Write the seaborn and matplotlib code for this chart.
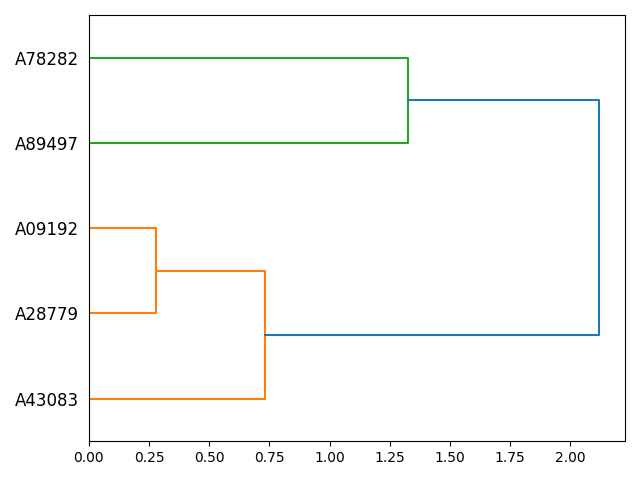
import numpy as np
import matplotlib
matplotlib.use("Agg")
import matplotlib.pyplot as plt
import seaborn as sns

# leaves, bottom to top
labels = ['A43083', 'A28779', 'A09192', 'A89497', 'A78282']
# merges: (left child, right child, height); ids >= 5 are earlier merges
merges = [(1, 2, 0.279), (0, 5, 0.733), (3, 4, 1.327), (6, 7, 2.121)]
merge_colors = ['C1', 'C1', 'C2', 'C0']

palette = sns.color_palette('tab10')

fig, ax = plt.subplots(figsize=(6.4, 4.8), dpi=100)

# positions of each node: leaves first, then merged clusters
ypos = [5 + 10 * i for i in range(len(labels))]
xpos = [0.0] * len(labels)
for (a, b, h), col in zip(merges, merge_colors):
    ya, yb = ypos[a], ypos[b]
    xa, xb = xpos[a], xpos[b]
    c = palette[int(col[1])]
    ax.plot([xa, h, h, xb], [ya, ya, yb, yb], color=c, lw=1.5)
    ypos.append((ya + yb) / 2)
    xpos.append(h)

ax.set_ylim(0, 10 * len(labels))
ax.set_xlim(0, max(m[2] for m in merges) * 1.05)
ax.set_yticks([5 + 10 * i for i in range(len(labels))])
ax.set_yticklabels(labels, fontsize=12)
# hide tick marks but keep their spacing
for line in ax.get_yticklines():
    line.set_visible(False)

plt.tight_layout()
plt.savefig('out.png', dpi=100)
